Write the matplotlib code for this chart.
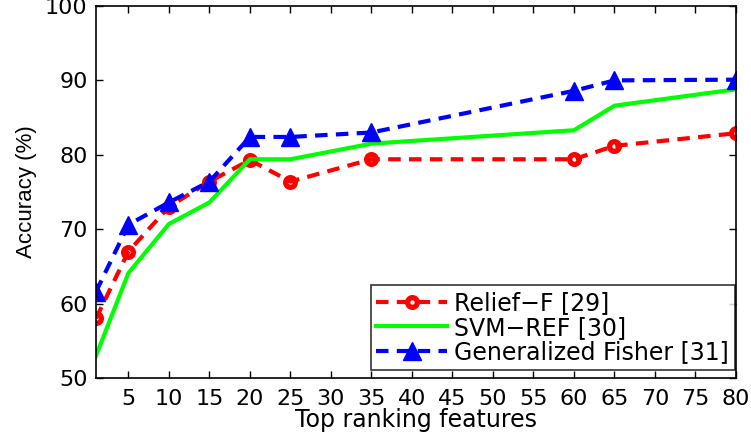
import matplotlib
matplotlib.use("Agg")
import matplotlib.pyplot as plt

plt.rcParams['font.family'] = ['DejaVu Sans']

features = [1, 5, 10, 15, 20, 25, 35, 60, 65, 80]
relief_f = [58.0, 67.0, 73.0, 76.4, 79.3, 76.4, 79.4, 79.4, 81.2, 82.9]
svm_ref = [53.0, 64.1, 70.7, 73.6, 79.4, 79.4, 81.5, 83.3, 86.6, 88.8]
gen_fisher = [61.6, 70.6, 73.6, 76.4, 82.4, 82.4, 83.0, 88.6, 90.0, 90.1]
xticks = list(range(5, 85, 5))
yticks = [50, 60, 70, 80, 90, 100]

fig = plt.figure(figsize=(7.51, 4.33), dpi=100)
ax = fig.add_axes([96/751, 1 - 378/433, (736-96)/751, (378-6)/433])

ax.plot(features, relief_f, color='red', ls='--', dashes=(3, 2), lw=3,
        marker='o', ms=7, mfc='none', mew=3.8, label='Relief\u2212F [29]')
ax.plot(features, svm_ref, color='#00ff00', ls='-', lw=3, label='SVM\u2212REF [30]')
ax.plot(features, gen_fisher, color='blue', ls='--', dashes=(3, 2), lw=3,
        marker='^', ms=13, mfc='blue', mew=1, label='Generalized Fisher [31]')

ax.set_xlim(1, 80)
ax.set_ylim(50, 100)
ax.set_xticks(xticks)
ax.set_yticks(yticks)
ax.tick_params(direction='in', top=True, right=True, labelsize=16, length=5, width=1, pad=8)
ax.tick_params(axis='y', pad=6)
for s in ax.spines.values():
    s.set_linewidth(1.2)
ax.set_xlabel('Top ranking features', fontsize=17, labelpad=-1)
ax.set_ylabel('Accuracy (%)', fontsize=16, labelpad=6, family='Liberation Sans')

leg = ax.legend(loc='lower right', bbox_to_anchor=(735/751, 1 - 370/433),
                bbox_transform=fig.transFigure, fontsize=17, frameon=True,
                fancybox=False, edgecolor='black', handlelength=3.0,
                handletextpad=0.3, labelspacing=0.02, borderpad=0.25,
                borderaxespad=0)
leg.get_frame().set_linewidth(1.2)

fig.savefig('out.png', dpi=100)
